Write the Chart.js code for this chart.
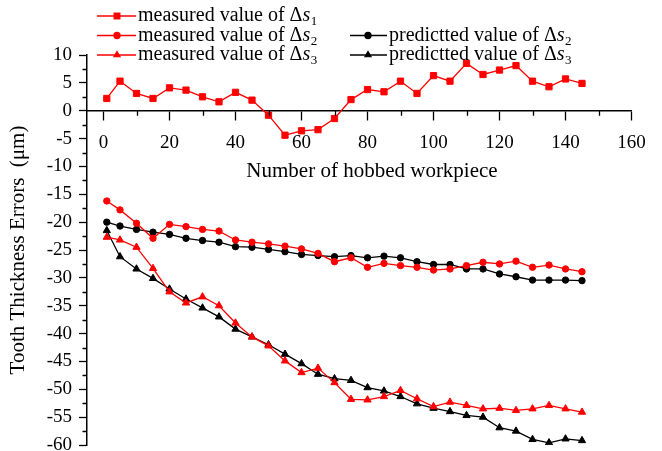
<!DOCTYPE html>
<html>
<head>
<meta charset="utf-8">
<script src="https://cdn.jsdelivr.net/npm/chart.js@4.4.0/dist/chart.umd.min.js"></script>
<style>
  body { margin: 0; background: #fff; }
  #wrap { width: 662px; height: 451px; }
</style>
</head>
<body>
<div id="wrap"><canvas id="chart"></canvas></div>
<script>
'use strict'

// data
const workpiece = [1, 5, 10, 15, 20, 25, 30, 35, 40, 45, 50, 55, 60, 65, 70, 75, 80, 85, 90, 95, 100, 105, 110, 115, 120, 125, 130, 135, 140, 145];

const measS1 = [2.2, 5.3, 3.1, 2.2, 4.1, 3.7, 2.5, 1.6, 3.3, 1.9, -0.8, -4.4, -3.6, -3.4, -1.4, 2.0, 3.8, 3.4, 5.3, 3.1, 6.3, 5.3, 8.5, 6.5, 7.3, 8.1, 5.3, 4.3, 5.7, 4.9];
const measS2 = [-16.2, -17.8, -20.2, -22.9, -20.4, -20.8, -21.3, -21.6, -23.2, -23.6, -23.9, -24.3, -24.8, -25.6, -27.1, -26.4, -28.1, -27.4, -27.8, -28.1, -28.6, -28.4, -27.8, -27.2, -27.5, -27.0, -28.1, -27.7, -28.4, -28.9];
const predS2 = [-20.0, -20.7, -21.3, -21.8, -22.2, -22.9, -23.3, -23.6, -24.4, -24.5, -24.9, -25.3, -25.8, -26.0, -26.2, -26.0, -26.4, -26.1, -26.4, -27.1, -27.6, -27.6, -28.4, -28.4, -29.3, -29.8, -30.4, -30.4, -30.4, -30.5];
const measS3 = [-22.7, -23.2, -24.5, -28.3, -32.5, -34.5, -33.4, -35.0, -38.1, -40.6, -42.2, -44.9, -47.0, -46.2, -48.8, -51.8, -51.9, -51.3, -50.2, -51.7, -53.1, -52.3, -52.9, -53.5, -53.4, -53.8, -53.5, -52.9, -53.5, -54.1];
const predS3 = [-21.5, -26.2, -28.4, -30.1, -32.0, -33.8, -35.4, -37.0, -39.2, -40.6, -42.0, -43.7, -45.4, -47.3, -48.1, -48.4, -49.7, -50.3, -51.3, -52.6, -53.4, -54.0, -54.7, -55.0, -56.9, -57.5, -59.0, -59.6, -58.9, -59.2];

const xTicks = [0, 20, 40, 60, 80, 100, 120, 140, 160];
const xMinor = [10, 30, 50, 70, 90, 110, 130, 150];
const yTicks = [-60, -55, -50, -45, -40, -35, -30, -25, -20, -15, -10, -5, 0, 5, 10];
const yMinor = [-57.5, -52.5, -47.5, -42.5, -37.5, -32.5, -27.5, -22.5, -17.5, -12.5, -7.5, -2.5, 2.5, 7.5];

const serif = "'Liberation Serif', 'Times New Roman', serif";

function pts(ys) {
  return workpiece.map((x, i) => ({x: x, y: ys[i]}));
}

function makeSet(name, sub, ys, color, style, r, col, row) {
  return {
    label: name + sub,
    legendName: name,
    legendSub: sub,
    legendCol: col,
    legendRow: row,
    data: pts(ys),
    borderColor: color,
    backgroundColor: color,
    borderWidth: 1.3,
    pointStyle: style,
    pointRadius: r,
    pointBorderWidth: 1,
    pointBorderColor: color,
    pointBackgroundColor: color,
    tension: 0
  };
}

const datasets = [
  makeSet('measured value of Δ', '1', measS1, '#ff0000', 'rect', 4.4, 0, 0),
  makeSet('measured value of Δ', '2', measS2, '#ff0000', 'circle', 3.2, 0, 1),
  makeSet('measured value of Δ', '3', measS3, '#ff0000', 'triangle', 4.2, 0, 2),
  makeSet('predictted value of Δ', '2', predS2, '#000000', 'circle', 3.2, 1, 1),
  makeSet('predictted value of Δ', '3', predS3, '#000000', 'triangle', 4.2, 1, 2)
];

function marker(ctx, style, r, x, y) {
  ctx.beginPath();
  if (style === 'rect') {
    const s = r * Math.SQRT1_2;
    ctx.rect(x - s, y - s, 2 * s, 2 * s);
  } else if (style === 'circle') {
    ctx.arc(x, y, r, 0, Math.PI * 2);
  } else {
    ctx.moveTo(x, y - r);
    ctx.lineTo(x + r * 0.866, y + r / 2);
    ctx.lineTo(x - r * 0.866, y + r / 2);
    ctx.closePath();
  }
  ctx.fill();
}

// legend in two columns, minor ticks, x title
const extras = {
  id: 'extras',
  afterDraw(chart) {
    const ctx = chart.ctx;
    const xs = chart.scales.x, ys = chart.scales.y;
    const y0 = ys.getPixelForValue(0);
    const left = chart.chartArea.left;
    ctx.save();
    ctx.strokeStyle = '#000';
    ctx.lineWidth = 1.3;
    ctx.beginPath();
    xMinor.forEach(v => {
      const px = Math.round(xs.getPixelForValue(v)) + 0.5;
      ctx.moveTo(px, y0);
      ctx.lineTo(px, y0 + 5);
    });
    yMinor.forEach(v => {
      const py = Math.round(ys.getPixelForValue(v)) + 0.5;
      ctx.moveTo(left - 4.5, py);
      ctx.lineTo(left, py);
    });
    ctx.stroke();

    ctx.fillStyle = '#000';
    ctx.font = '21px ' + serif;
    ctx.textAlign = 'center';
    ctx.textBaseline = 'middle';
    ctx.fillText('Number of hobbed workpiece', 372, 171);

    const cols = [{a: 97, b: 136, m: 117, t: 138}, {a: 350, b: 387, m: 368, t: 389}];
    const rows = [16, 35.5, 55];
    ctx.textAlign = 'left';
    chart.data.datasets.forEach(ds => {
      const c = cols[ds.legendCol], y = rows[ds.legendRow];
      ctx.strokeStyle = ds.borderColor;
      ctx.fillStyle = ds.borderColor;
      ctx.lineWidth = 1.3;
      ctx.beginPath();
      ctx.moveTo(c.a, y);
      ctx.lineTo(c.b, y);
      ctx.stroke();
      marker(ctx, ds.pointStyle, ds.pointRadius + 0.5, c.m, y);
      ctx.fillStyle = '#000';
      let x = c.t;
      ctx.font = '20px ' + serif;
      ctx.fillText(ds.legendName, x, y);
      x += ctx.measureText(ds.legendName).width;
      ctx.font = 'italic 20px ' + serif;
      ctx.fillText('s', x, y);
      x += ctx.measureText('s').width + 0.5;
      ctx.font = '13px ' + serif;
      ctx.fillText(ds.legendSub, x, y + 6);
    });
    ctx.restore();
  }
};

new Chart(document.getElementById('chart'), {
  type: 'line',
  data: {datasets: datasets},
  plugins: [extras],
  options: {
    responsive: true,
    maintainAspectRatio: false,
    animation: false,
    layout: {padding: {top: 55, right: 30.5, bottom: 6, left: 0}},
    plugins: {legend: {display: false}, tooltip: {enabled: false}},
    scales: {
      x: {
        type: 'linear',
        position: {y: 0},
        min: -5,
        max: 160,
        afterBuildTicks: s => { s.ticks = xTicks.map(v => ({value: v})); },
        afterFit: s => { s.paddingLeft = 0; s.paddingRight = 0; },
        grid: {drawOnChartArea: false, color: '#000', tickLength: 9, tickWidth: 1.3},
        border: {display: true, color: '#000', width: 1.5},
        ticks: {color: '#000', padding: 11.5, font: {family: serif, size: 19}, maxRotation: 0}
      },
      y: {
        type: 'linear',
        position: 'left',
        min: -60,
        max: 10,
        afterBuildTicks: s => { s.ticks = yTicks.map(v => ({value: v})); },
        afterFit: s => { s.width = 87; s.paddingTop = 0; s.paddingBottom = 0; },
        grid: {drawOnChartArea: false, color: '#000', tickLength: 8, tickWidth: 1.3},
        border: {display: true, color: '#000', width: 1.5},
        ticks: {color: '#000', padding: 7, font: {family: serif, size: 19}},
        title: {
          display: true,
          text: 'Tooth Thickness Errors  (μm)',
          color: '#000',
          font: {family: serif, size: 21},
          padding: {top: 6, bottom: 0}
        }
      }
    }
  }
});
</script>
</body>
</html>
